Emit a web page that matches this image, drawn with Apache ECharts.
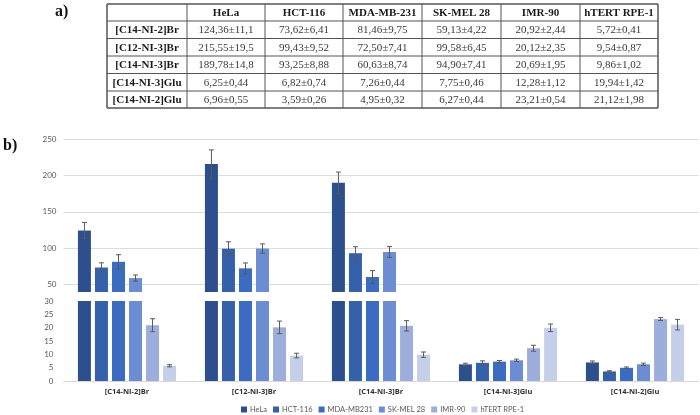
<!DOCTYPE html>
<html><head><meta charset="utf-8">
<script src="https://cdn.jsdelivr.net/npm/echarts@6/dist/echarts.min.js"></script>
<style>html,body{margin:0;padding:0;background:#fff}#c{width:700px;height:415px}</style>
</head><body><div id="c"></div>
<script>
// ---- data ----
const compounds = ['[C14-NI-2]Br', '[C12-NI-3]Br', '[C14-NI-3]Br', '[C14-NI-3]Glu', '[C14-NI-2]Glu'];
const tableHeaders = ['HeLa', 'HCT-116', 'MDA-MB-231', 'SK-MEL 28', 'IMR-90', 'hTERT RPE-1'];
const legendNames = ['HeLa', 'HCT-116', 'MDA-MB231', 'SK-MEL 28', 'IMR-90', 'hTERT RPE-1'];
const hela = ['124,36±11,1', '215,55±19,5', '189,78±14,8', '6,25±0,44', '6,96±0,55'];
const hct116 = ['73,62±6,41', '99,43±9,52', '93,25±8,88', '6,82±0,74', '3,59±0,26'];
const mdamb231 = ['81,46±9,75', '72,50±7,41', '60,63±8,74', '7,26±0,44', '4,95±0,32'];
const skmel28 = ['59,13±4,22', '99,58±6,45', '94,90±7,41', '7,75±0,46', '6,27±0,44'];
const imr90 = ['20,92±2,44', '20,12±2,35', '20,69±1,95', '12,28±1,12', '23,21±0,54'];
const htert = ['5,72±0,41', '9,54±0,87', '9,86±1,02', '19,94±1,42', '21,12±1,98'];
const upperTicks = [50, 100, 150, 200, 250];
const upperRange = [40, 250];
const lowerRange = [0, 30];

// ---- styling / layout ----
const colors = ['#2E4F8E', '#3560AA', '#3B6CC2', '#6D8DD2', '#9EAEDC', '#C6CFEA'];
const cellLines = [hela, hct116, mdamb231, skmel28, imr90, htert];
const parse = s => s.replace(/,/g, '.').split('±').map(Number);
const means = cellLines.map(a => a.map(s => parse(s)[0]));
const sds = cellLines.map(a => a.map(s => parse(s)[1]));

const BAR_W = 13, BAR_GAP = 0.31;
const pitch = BAR_W * (1 + BAR_GAP);
const nS = cellLines.length;

function errData(lo, hi) {
  const out = [];
  means.forEach((arr, s) => arr.forEach((m, c) => {
    if (m > lo && m < hi) out.push([c, s, m, sds[s][c]]);
  }));
  return out;
}
function errRender(params, api) {
  const c = api.value(0), s = api.value(1), m = api.value(2), sd = api.value(3);
  const p1 = api.coord([c, m + sd]), p2 = api.coord([c, m - sd]);
  const x = p1[0] + (s - (nS - 1) / 2) * pitch;
  const st = {stroke: '#5a5a5a', lineWidth: 1};
  return {type: 'group', children: [
    {type: 'line', shape: {x1: x, y1: p1[1], x2: x, y2: p2[1]}, style: st},
    {type: 'line', shape: {x1: x - 2.5, y1: p1[1], x2: x + 2.5, y2: p1[1]}, style: st},
    {type: 'line', shape: {x1: x - 2.5, y1: p2[1], x2: x + 2.5, y2: p2[1]}, style: st}
  ]};
}

const series = [];
[0, 1].forEach(g => {
  cellLines.forEach((arr, s) => {
    series.push({
      type: 'bar', name: legendNames[s], xAxisIndex: g, yAxisIndex: g,
      data: means[s], barWidth: BAR_W, barGap: (BAR_GAP * 100) + '%',
      itemStyle: {color: colors[s]}, clip: true, z: 2, silent: true
    });
  });
  const rng = g === 0 ? upperRange : lowerRange;
  series.push({
    type: 'custom', xAxisIndex: g, yAxisIndex: g, data: errData(rng[0], rng[1]),
    renderItem: errRender, clip: true, z: 3, silent: true,
    encode: {x: 0, y: 2}
  });
});

// ---- table as graphic ----
const colEdges = [107, 187, 265, 343, 422, 501, 580, 658];
const rowEdges = [4, 21, 38.5, 56, 73.5, 91, 108];
const graphics = [];
const serif = '"Liberation Serif", "DejaVu Serif", serif';
function cellText(txt, r, c, bold) {
  graphics.push({type: 'text', silent: true,
    x: (colEdges[c] + colEdges[c + 1]) / 2, y: (rowEdges[r] + rowEdges[r + 1]) / 2 + 0.5,
    style: {text: txt, fill: bold ? '#1a1a1a' : '#3a3a3a', font: (bold ? 'bold ' : '') + '11px ' + serif,
      textAlign: 'center', textVerticalAlign: 'middle'}});
}
tableHeaders.forEach((h, i) => cellText(h, 0, i + 1, true));
compounds.forEach((cp, r) => {
  cellText(cp, r + 1, 0, true);
  cellLines.forEach((arr, c) => cellText(arr[r], r + 1, c + 1, false));
});
rowEdges.forEach((y, i) => graphics.push({type: 'line', silent: true,
  shape: {x1: colEdges[0], y1: y, x2: colEdges[colEdges.length - 1], y2: y},
  style: {stroke: '#555', lineWidth: (i === 0 || i === rowEdges.length - 1) ? 1.5 : 1}}));
colEdges.forEach((x, i) => graphics.push({type: 'line', silent: true,
  shape: {x1: x, y1: rowEdges[0], x2: x, y2: rowEdges[rowEdges.length - 1]},
  style: {stroke: '#555', lineWidth: (i === 0 || i === colEdges.length - 1) ? 1.5 : 1}}));
graphics.push({type: 'text', silent: true, x: 55, y: 4,
  style: {text: 'a)', font: 'bold 16px ' + serif, fill: '#111'}});
graphics.push({type: 'text', silent: true, x: 3, y: 138,
  style: {text: 'b)', font: 'bold 16px ' + serif, fill: '#111'}});

const sans = 'Lato, "Open Sans", sans-serif';
const option = {
  animation: false,
  backgroundColor: '#fff',
  graphic: graphics,
  legend: {
    data: legendNames, left: 241, top: 405.5, padding: 0, icon: 'rect', itemWidth: 6, itemHeight: 6, itemGap: 6,
    textStyle: {fontSize: 7.5, color: '#595959', fontFamily: sans, padding: [0, 0, 0, -2]}
  },
  grid: [
    {left: 63.5, width: 635, top: 139, height: 153},
    {left: 63.5, width: 635, top: 301, height: 80}
  ],
  xAxis: [
    {type: 'category', gridIndex: 0, data: compounds, show: false},
    {type: 'category', gridIndex: 1, data: compounds,
      axisLine: {lineStyle: {color: '#d9d9d9'}}, axisTick: {show: false},
      axisLabel: {fontSize: 7.5, fontWeight: 'bold', color: '#333', fontFamily: '"Open Sans", sans-serif', margin: 7}}
  ],
  yAxis: [
    {type: 'value', gridIndex: 0, min: upperRange[0], max: upperRange[1],
      axisLine: {show: false}, axisTick: {show: false, customValues: upperTicks},
      axisLabel: {customValues: upperTicks, fontSize: 8, color: '#595959', fontFamily: sans, margin: 7},
      splitLine: {show: true, lineStyle: {color: '#dcdcdc', width: 1}}},
    {type: 'value', gridIndex: 1, min: lowerRange[0], max: lowerRange[1], interval: 5,
      axisLine: {show: false}, axisTick: {show: false},
      axisLabel: {fontSize: 8, color: '#595959', fontFamily: sans, margin: 10},
      splitLine: {show: false}}
  ],
  series: series
};
const chart = echarts.init(document.getElementById('c'), null, {renderer: 'canvas'});
chart.setOption(option);
</script></body></html>
